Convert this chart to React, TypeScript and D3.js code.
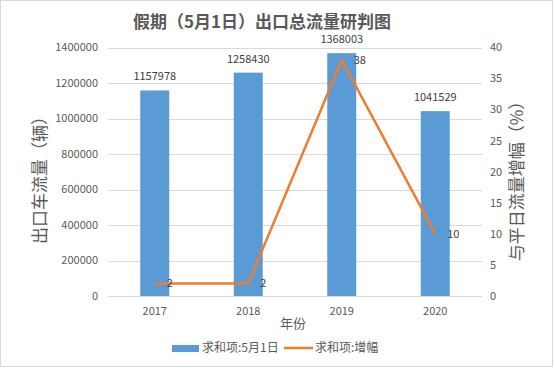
import { FC, useEffect, useRef } from 'react';
import * as d3 from 'd3';

const years = ['2017', '2018', '2019', '2020'];
const flowValues = [1157978, 1258430, 1368003, 1041529];
const growthValues = [2, 2, 38, 10];
const leftTicks = [0, 200000, 400000, 600000, 800000, 1000000, 1200000, 1400000];
const rightTicks = [0, 5, 10, 15, 20, 25, 30, 35, 40];

const FONT = '"Noto Sans CJK SC", "Liberation Sans", sans-serif';

const App: FC = () => {
  const chartRef = useRef<HTMLDivElement>(null);

  useEffect(() => {
    document.body.style.margin = '0';
    const width = 554;
    const height = 368;
    const plot = { left: 108, right: 482, top: 47.5, bottom: 296 };

    d3.select(chartRef.current).selectAll('*').remove();
    const svg = d3
      .select(chartRef.current)
      .append('svg')
      .attr('width', width)
      .attr('height', height)
      .style('display', 'block')
      .style('font-family', FONT);

    svg
      .append('rect')
      .attr('x', 0.5)
      .attr('y', 0.5)
      .attr('width', width - 2)
      .attr('height', height - 2)
      .attr('fill', '#fff')
      .attr('stroke', '#d9d9d9');

    // Scales
    const x = d3.scaleBand().domain(years).range([plot.left, plot.right]);
    const yLeft = d3.scaleLinear().domain([0, 1400000]).range([plot.bottom, plot.top]);
    const yRight = d3.scaleLinear().domain([0, 40]).range([plot.bottom, plot.top]);
    const barW = x.bandwidth() * 0.31;
    const cx = (d: string) => x(d)! + x.bandwidth() / 2;

    // Gridlines
    svg
      .append('g')
      .selectAll('line')
      .data(leftTicks)
      .enter()
      .append('line')
      .attr('x1', plot.left)
      .attr('x2', plot.right)
      .attr('y1', (d) => Math.round(yLeft(d)) + 0.5)
      .attr('y2', (d) => Math.round(yLeft(d)) + 0.5)
      .attr('stroke', '#d9d9d9')
      .attr('stroke-width', 1);

    // Left axis labels
    svg
      .append('g')
      .selectAll('text')
      .data(leftTicks)
      .enter()
      .append('text')
      .attr('x', 98)
      .attr('y', (d) => yLeft(d))
      .attr('dy', '0.35em')
      .attr('text-anchor', 'end')
      .attr('font-size', 11)
      .attr('fill', '#595959')
      .text((d) => d);

    // Right axis labels
    svg
      .append('g')
      .selectAll('text')
      .data(rightTicks)
      .enter()
      .append('text')
      .attr('x', 490)
      .attr('y', (d) => yRight(d))
      .attr('dy', '0.35em')
      .attr('font-size', 11)
      .attr('fill', '#595959')
      .text((d) => d);

    // Bars
    svg
      .append('g')
      .selectAll('rect')
      .data(years)
      .enter()
      .append('rect')
      .attr('x', (d) => cx(d) - barW / 2)
      .attr('y', (d, i) => yLeft(flowValues[i]))
      .attr('width', barW)
      .attr('height', (d, i) => plot.bottom - yLeft(flowValues[i]))
      .attr('fill', '#5b9bd5');

    // Bar labels
    svg
      .append('g')
      .selectAll('text')
      .data(years)
      .enter()
      .append('text')
      .attr('x', (d) => cx(d))
      .attr('y', (d, i) => yLeft(flowValues[i]) - 10)
      .attr('text-anchor', 'middle')
      .attr('font-size', 11)
      .attr('fill', '#404040')
      .text((d, i) => flowValues[i]);

    // Line
    const line = d3
      .line<number>()
      .x((d, i) => cx(years[i]))
      .y((d) => yRight(d));

    svg
      .append('path')
      .datum(growthValues)
      .attr('d', line)
      .attr('fill', 'none')
      .attr('stroke', '#ed7d31')
      .attr('stroke-width', 2.5)
      .attr('stroke-linejoin', 'round');

    svg
      .append('g')
      .selectAll('text')
      .data(growthValues)
      .enter()
      .append('text')
      .attr('x', (d, i) => cx(years[i]) + 12)
      .attr('y', (d) => yRight(d))
      .attr('dy', '0.35em')
      .attr('font-size', 11)
      .attr('fill', '#404040')
      .text((d) => d);

    // X axis labels
    svg
      .append('g')
      .selectAll('text')
      .data(years)
      .enter()
      .append('text')
      .attr('x', (d) => cx(d))
      .attr('y', 311)
      .attr('dy', '0.35em')
      .attr('text-anchor', 'middle')
      .attr('font-size', 11)
      .attr('fill', '#595959')
      .text((d) => d);

    // Titles
    svg
      .append('text')
      .attr('x', 262)
      .attr('y', 22)
      .attr('dy', '0.35em')
      .attr('text-anchor', 'middle')
      .attr('font-size', 17)
      .attr('font-weight', 'bold')
      .attr('fill', '#595959')
      .text('假期（5月1日）出口总流量研判图');

    svg
      .append('text')
      .attr('x', 293)
      .attr('y', 323)
      .attr('dy', '0.35em')
      .attr('text-anchor', 'middle')
      .attr('font-size', 13)
      .attr('fill', '#595959')
      .text('年份');

    svg
      .append('text')
      .attr('transform', 'translate(40,176) rotate(-90)')
      .attr('dy', '0.35em')
      .attr('text-anchor', 'middle')
      .attr('font-size', 17)
      .attr('fill', '#595959')
      .text('出口车流量（辆）');

    svg
      .append('text')
      .attr('transform', 'translate(517,177) rotate(-90)')
      .attr('dy', '0.35em')
      .attr('text-anchor', 'middle')
      .attr('font-size', 17)
      .attr('fill', '#595959')
      .text('与平日流量增幅（%）');

    // Legend
    const legend = svg.append('g').attr('font-size', 12).attr('fill', '#595959');
    legend
      .append('rect')
      .attr('x', 172)
      .attr('y', 345)
      .attr('width', 27)
      .attr('height', 7)
      .attr('fill', '#5b9bd5');
    legend
      .append('text')
      .attr('x', 202)
      .attr('y', 348)
      .attr('dy', '0.35em')
      .text('求和项:5月1日');
    legend
      .append('line')
      .attr('x1', 284)
      .attr('x2', 313)
      .attr('y1', 348)
      .attr('y2', 348)
      .attr('stroke', '#ed7d31')
      .attr('stroke-width', 2.5);
    legend
      .append('text')
      .attr('x', 315)
      .attr('y', 348)
      .attr('dy', '0.35em')
      .text('求和项:增幅');
  }, []);

  return <div ref={chartRef}></div>;
};

export default App;
